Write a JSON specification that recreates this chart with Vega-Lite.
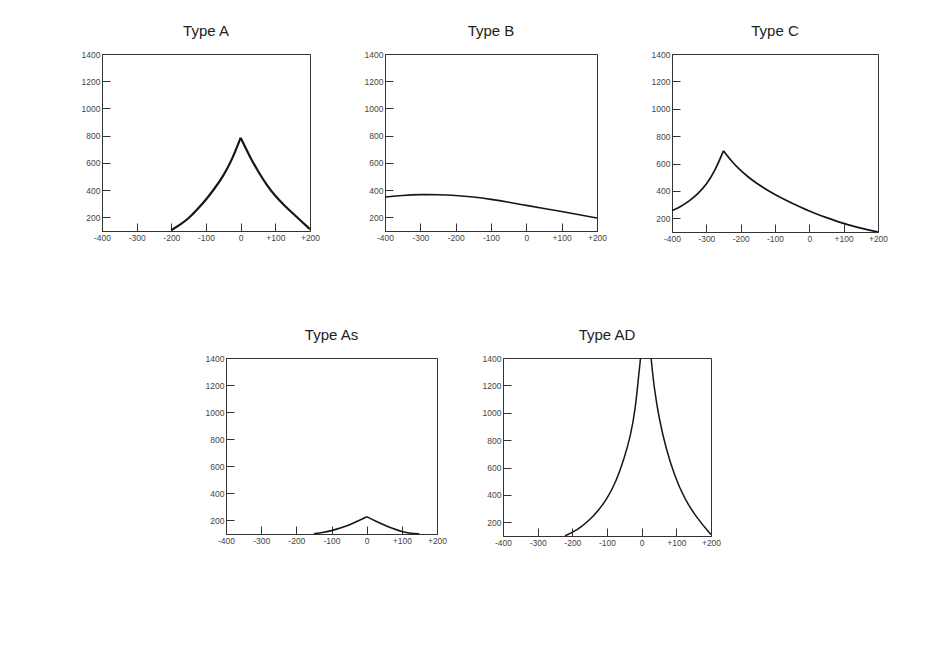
{
  "$schema": "https://vega.github.io/schema/vega-lite/v6.json",
  "background": "white",
  "padding": {"left": 80, "top": 23, "right": 0, "bottom": 0},
  "datasets": {
    "curves": [
      {"type": "A", "seg": "L", "x": -200, "y": 106}, {"type": "A", "seg": "L", "x": -175, "y": 145}, {"type": "A", "seg": "L", "x": -150, "y": 192},
      {"type": "A", "seg": "L", "x": -125, "y": 258}, {"type": "A", "seg": "L", "x": -100, "y": 330}, {"type": "A", "seg": "L", "x": -75, "y": 412},
      {"type": "A", "seg": "L", "x": -50, "y": 505}, {"type": "A", "seg": "L", "x": -25, "y": 622}, {"type": "A", "seg": "L", "x": 0, "y": 785},
      {"type": "A", "seg": "R", "x": 0, "y": 785}, {"type": "A", "seg": "R", "x": 25, "y": 652}, {"type": "A", "seg": "R", "x": 50, "y": 538},
      {"type": "A", "seg": "R", "x": 75, "y": 438}, {"type": "A", "seg": "R", "x": 100, "y": 356}, {"type": "A", "seg": "R", "x": 125, "y": 290},
      {"type": "A", "seg": "R", "x": 150, "y": 230}, {"type": "A", "seg": "R", "x": 175, "y": 172}, {"type": "A", "seg": "R", "x": 200, "y": 113},

      {"type": "B", "seg": "L", "x": -400, "y": 350}, {"type": "B", "seg": "L", "x": -350, "y": 362}, {"type": "B", "seg": "L", "x": -300, "y": 368},
      {"type": "B", "seg": "L", "x": -250, "y": 367}, {"type": "B", "seg": "L", "x": -200, "y": 362}, {"type": "B", "seg": "L", "x": -150, "y": 350},
      {"type": "B", "seg": "L", "x": -100, "y": 333}, {"type": "B", "seg": "L", "x": -50, "y": 312}, {"type": "B", "seg": "L", "x": 0, "y": 288},
      {"type": "B", "seg": "L", "x": 50, "y": 265}, {"type": "B", "seg": "L", "x": 100, "y": 243}, {"type": "B", "seg": "L", "x": 150, "y": 220},
      {"type": "B", "seg": "L", "x": 200, "y": 195},

      {"type": "C", "seg": "L", "x": -400, "y": 255}, {"type": "C", "seg": "L", "x": -375, "y": 285}, {"type": "C", "seg": "L", "x": -350, "y": 325},
      {"type": "C", "seg": "L", "x": -325, "y": 378}, {"type": "C", "seg": "L", "x": -300, "y": 445}, {"type": "C", "seg": "L", "x": -275, "y": 545},
      {"type": "C", "seg": "L", "x": -250, "y": 693},
      {"type": "C", "seg": "R", "x": -250, "y": 693}, {"type": "C", "seg": "R", "x": -225, "y": 612}, {"type": "C", "seg": "R", "x": -200, "y": 548},
      {"type": "C", "seg": "R", "x": -175, "y": 495}, {"type": "C", "seg": "R", "x": -150, "y": 450}, {"type": "C", "seg": "R", "x": -125, "y": 410},
      {"type": "C", "seg": "R", "x": -100, "y": 373}, {"type": "C", "seg": "R", "x": -75, "y": 340}, {"type": "C", "seg": "R", "x": -50, "y": 309},
      {"type": "C", "seg": "R", "x": -25, "y": 280}, {"type": "C", "seg": "R", "x": 0, "y": 253}, {"type": "C", "seg": "R", "x": 25, "y": 228},
      {"type": "C", "seg": "R", "x": 50, "y": 205}, {"type": "C", "seg": "R", "x": 75, "y": 183}, {"type": "C", "seg": "R", "x": 100, "y": 163},
      {"type": "C", "seg": "R", "x": 125, "y": 145}, {"type": "C", "seg": "R", "x": 150, "y": 128}, {"type": "C", "seg": "R", "x": 175, "y": 113},
      {"type": "C", "seg": "R", "x": 200, "y": 100},

      {"type": "As", "seg": "L", "x": -150, "y": 102}, {"type": "As", "seg": "L", "x": -125, "y": 110}, {"type": "As", "seg": "L", "x": -100, "y": 124},
      {"type": "As", "seg": "L", "x": -75, "y": 143}, {"type": "As", "seg": "L", "x": -50, "y": 166}, {"type": "As", "seg": "L", "x": -25, "y": 195},
      {"type": "As", "seg": "L", "x": 0, "y": 228},
      {"type": "As", "seg": "R", "x": 0, "y": 228}, {"type": "As", "seg": "R", "x": 25, "y": 196}, {"type": "As", "seg": "R", "x": 50, "y": 166},
      {"type": "As", "seg": "R", "x": 75, "y": 139}, {"type": "As", "seg": "R", "x": 100, "y": 117}, {"type": "As", "seg": "R", "x": 125, "y": 104},
      {"type": "As", "seg": "R", "x": 150, "y": 100},

      {"type": "Ad", "seg": "L", "x": -221, "y": 102}, {"type": "Ad", "seg": "L", "x": -200, "y": 125}, {"type": "Ad", "seg": "L", "x": -175, "y": 165},
      {"type": "Ad", "seg": "L", "x": -150, "y": 218}, {"type": "Ad", "seg": "L", "x": -125, "y": 285}, {"type": "Ad", "seg": "L", "x": -100, "y": 372},
      {"type": "Ad", "seg": "L", "x": -75, "y": 490}, {"type": "Ad", "seg": "L", "x": -50, "y": 670}, {"type": "Ad", "seg": "L", "x": -32, "y": 830},
      {"type": "Ad", "seg": "L", "x": -18, "y": 1030}, {"type": "Ad", "seg": "L", "x": -8, "y": 1290}, {"type": "Ad", "seg": "L", "x": -3, "y": 1400},
      {"type": "Ad", "seg": "L", "x": 1, "y": 1520},
      {"type": "Ad", "seg": "R", "x": 23, "y": 1520}, {"type": "Ad", "seg": "R", "x": 27, "y": 1400}, {"type": "Ad", "seg": "R", "x": 36, "y": 1180},
      {"type": "Ad", "seg": "R", "x": 50, "y": 960}, {"type": "Ad", "seg": "R", "x": 70, "y": 740}, {"type": "Ad", "seg": "R", "x": 94, "y": 545},
      {"type": "Ad", "seg": "R", "x": 123, "y": 372}, {"type": "Ad", "seg": "R", "x": 161, "y": 225}, {"type": "Ad", "seg": "R", "x": 200, "y": 110}
    ],
    "blank": [{"k": 1}]
  },
  "vconcat": [
    {
      "hconcat": [
        {
          "title": "Type A", "width": 208, "height": 177,
          "data": {"name": "curves"},
          "transform": [{"filter": "datum.type === 'A'"}],
          "mark": {"type": "line", "interpolate": "basis", "color": "#161616", "strokeWidth": 2.2, "clip": true},
          "encoding": {
            "x": {"field": "x", "type": "quantitative", "scale": {"domain": [-400, 200], "nice": false, "zero": false},
                  "axis": {"title": null, "values": [-400, -300, -200, -100, 0, 100, 200], "labelExpr": "datum.value > 0 ? '+' + datum.value : '' + datum.value"}},
            "y": {"field": "y", "type": "quantitative", "scale": {"domain": [100, 1400], "nice": false, "zero": false},
                  "axis": {"title": null, "values": [200, 400, 600, 800, 1000, 1200, 1400], "format": "d"}},
            "detail": {"field": "seg"}
          }
        },
        {
          "title": "Type B", "width": 212, "height": 177,
          "data": {"name": "curves"},
          "transform": [{"filter": "datum.type === 'B'"}],
          "mark": {"type": "line", "interpolate": "basis", "color": "#161616", "strokeWidth": 1.6, "clip": true},
          "encoding": {
            "x": {"field": "x", "type": "quantitative", "scale": {"domain": [-400, 200], "nice": false, "zero": false},
                  "axis": {"title": null, "values": [-400, -300, -200, -100, 0, 100, 200], "labelExpr": "datum.value > 0 ? '+' + datum.value : '' + datum.value"}},
            "y": {"field": "y", "type": "quantitative", "scale": {"domain": [100, 1400], "nice": false, "zero": false},
                  "axis": {"title": null, "values": [200, 400, 600, 800, 1000, 1200, 1400], "format": "d"}},
            "detail": {"field": "seg"}
          }
        },
        {
          "title": "Type C", "width": 206, "height": 178,
          "data": {"name": "curves"},
          "transform": [{"filter": "datum.type === 'C'"}],
          "mark": {"type": "line", "interpolate": "basis", "color": "#161616", "strokeWidth": 1.7, "clip": true},
          "encoding": {
            "x": {"field": "x", "type": "quantitative", "scale": {"domain": [-400, 200], "nice": false, "zero": false},
                  "axis": {"title": null, "values": [-400, -300, -200, -100, 0, 100, 200], "labelExpr": "datum.value > 0 ? '+' + datum.value : '' + datum.value"}},
            "y": {"field": "y", "type": "quantitative", "scale": {"domain": [100, 1400], "nice": false, "zero": false},
                  "axis": {"title": null, "values": [200, 400, 600, 800, 1000, 1200, 1400], "format": "d"}},
            "detail": {"field": "seg"}
          }
        }
      ],
      "spacing": 42
    },
    {
      "hconcat": [
        {
          "width": 69, "height": 10,
          "data": {"name": "blank"},
          "mark": {"type": "text", "text": ""},
          "encoding": {},
          "view": {"stroke": null}
        },
        {
          "title": "Type As", "width": 211, "height": 176,
          "data": {"name": "curves"},
          "transform": [{"filter": "datum.type === 'As'"}],
          "mark": {"type": "line", "interpolate": "basis", "color": "#161616", "strokeWidth": 1.6, "clip": true},
          "encoding": {
            "x": {"field": "x", "type": "quantitative", "scale": {"domain": [-400, 200], "nice": false, "zero": false},
                  "axis": {"title": null, "values": [-400, -300, -200, -100, 0, 100, 200], "labelExpr": "datum.value > 0 ? '+' + datum.value : '' + datum.value"}},
            "y": {"field": "y", "type": "quantitative", "scale": {"domain": [100, 1400], "nice": false, "zero": false},
                  "axis": {"title": null, "values": [200, 400, 600, 800, 1000, 1200, 1400], "format": "d"}},
            "detail": {"field": "seg"}
          }
        },
        {
          "title": "Type AD", "width": 208, "height": 178,
          "data": {"name": "curves"},
          "transform": [{"filter": "datum.type === 'Ad'"}],
          "mark": {"type": "line", "interpolate": "basis", "color": "#161616", "strokeWidth": 1.5, "clip": true},
          "encoding": {
            "x": {"field": "x", "type": "quantitative", "scale": {"domain": [-400, 200], "nice": false, "zero": false},
                  "axis": {"title": null, "values": [-400, -300, -200, -100, 0, 100, 200], "labelExpr": "datum.value > 0 ? '+' + datum.value : '' + datum.value"}},
            "y": {"field": "y", "type": "quantitative", "scale": {"domain": [100, 1400], "nice": false, "zero": false},
                  "axis": {"title": null, "values": [200, 400, 600, 800, 1000, 1200, 1400], "format": "d"}},
            "detail": {"field": "seg"}
          }
        }
      ],
      "spacing": 33
    }
  ],
  "spacing": 84,
  "config": {
    "font": "Liberation Sans",
    "view": {"stroke": "#333333", "strokeWidth": 1},
    "axis": {
      "grid": false,
      "domainColor": "#333333",
      "tickColor": "#333333",
      "tickSize": -8,
      "labelPadding": 10,
      "labelFontSize": 8.5,
      "labelColor": "#444444",
      "labelFlush": false,
      "labelOverlap": false,
      "labelFont": "Liberation Sans"
    },
    "title": {"fontSize": 15, "fontWeight": "normal", "color": "#222222", "offset": 11, "anchor": "middle", "font": "Liberation Sans"}
  }
}
